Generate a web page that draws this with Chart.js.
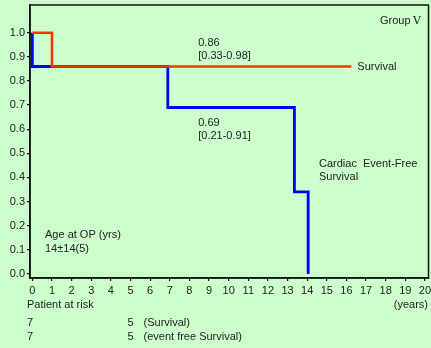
<!DOCTYPE html>
<html>
<head>
<meta charset="utf-8">
<script src="https://cdn.jsdelivr.net/npm/chart.js@4/dist/chart.umd.min.js"></script>
<style>
  html, body { margin: 0; padding: 0; background: #ccffcc; }
  #wrap { width: 431px; height: 348px; position: relative; }
</style>
</head>
<body>
<div id="wrap"><canvas id="km"></canvas></div>
<script>
// Kaplan-Meier steps (years, proportion)
const survivalYears = [0, 1, 16.25];
const survivalValues = [1.0, 0.86, 0.86];
const eventFreeYears = [0, 0, 6.9, 13.35, 14.05];
const eventFreeValues = [1.0, 0.86, 0.69, 0.34, 0.0];

const xTicks = [0,1,2,3,4,5,6,7,8,9,10,11,12,13,14,15,16,17,18,19,20];
const yTicks = [0,0.1,0.2,0.3,0.4,0.5,0.6,0.7,0.8,0.9,1.0];

const survivalCI = '[0.33-0.98]';
const eventFreeCI = '[0.21-0.91]';
const atRiskYears = [0, 5];
const atRiskSurvival = [7, 5];
const atRiskEventFree = [7, 5];

const FONT = '"Liberation Sans", Arial, sans-serif';

const toPoints = (xs, ys) => xs.map((x, i) => ({ x: x, y: ys[i] }));

const overlay = {
  id: 'overlay',
  afterDraw(chart) {
    const { ctx, chartArea: a, scales: { x, y } } = chart;
    ctx.save();
    // frame
    ctx.strokeStyle = '#111';
    ctx.lineWidth = 1.5;
    ctx.strokeRect(a.left, a.top, a.right - a.left, a.bottom - a.top);

    ctx.fillStyle = '#222';
    ctx.font = '11px ' + FONT;
    ctx.textBaseline = 'middle';
    ctx.textAlign = 'left';

    // group label
    ctx.fillText('Group', 380, 21);
    ctx.font = '11px "DejaVu Serif", serif';
    ctx.fillText('\u2164', 413, 21);
    ctx.font = '11px ' + FONT;

    // survival estimate
    const sv = survivalValues[survivalValues.length - 1];
    const xl = x.getPixelForValue(8.45);
    ctx.fillText(sv.toFixed(2), xl, y.getPixelForValue(sv) - 24);
    ctx.fillText(survivalCI, xl, y.getPixelForValue(sv) - 11);
    ctx.fillText('Survival', x.getPixelForValue(survivalYears[survivalYears.length - 1]) + 6, y.getPixelForValue(sv));

    // event-free estimate
    const ev = eventFreeValues[2];
    ctx.fillText(ev.toFixed(2), xl, y.getPixelForValue(ev) + 15);
    ctx.fillText(eventFreeCI, xl, y.getPixelForValue(ev) + 28);
    ctx.fillText('Cardiac  Event-Free', 319, 164);
    ctx.fillText('Survival', 319, 177);

    // age at operation
    ctx.fillText('Age at OP (yrs)', 45, 235);
    ctx.fillText('14\u00b114(5)', 45, 249);

    // patients at risk
    ctx.fillText('Patient at risk', 27, 305);
    ctx.textAlign = 'right';
    ctx.fillText('(years)', 428, 305);
    ctx.textAlign = 'left';
    const rows = [[atRiskSurvival, '(Survival)', 323], [atRiskEventFree, '(event free Survival)', 337]];
    rows.forEach(([vals, label, yy]) => {
      ctx.fillText(String(vals[0]), 27, yy);
      const px = x.getPixelForValue(atRiskYears[1]);
      ctx.fillText(String(vals[1]), px - 3, yy);
      ctx.fillText(label, px + 13, yy);
    });
    ctx.restore();
  }
};

new Chart(document.getElementById('km'), {
  type: 'scatter',
  data: {
    datasets: [
      {
        label: 'Survival',
        data: toPoints(survivalYears, survivalValues),
        showLine: true,
        stepped: 'before',
        borderColor: '#ff3300',
        borderWidth: 2.6,
        pointRadius: 0,
        order: 1
      },
      {
        label: 'Cardiac Event-Free Survival',
        data: toPoints(eventFreeYears, eventFreeValues),
        showLine: true,
        stepped: 'before',
        borderColor: '#0000ff',
        borderWidth: 2.8,
        pointRadius: 0,
        order: 2
      }
    ]
  },
  options: {
    responsive: true,
    maintainAspectRatio: false,
    animation: false,
    devicePixelRatio: 1,
    layout: { padding: { top: 5, right: 2.5, left: 0, bottom: 0 } },
    plugins: { legend: { display: false }, tooltip: { enabled: false } },
    scales: {
      x: {
        type: 'linear',
        min: -0.12,
        max: 20.18,
        afterBuildTicks: s => { s.ticks = xTicks.map(v => ({ value: v })); },
        afterFit: s => { s.height = 70; s.paddingLeft = 0; s.paddingRight = 0; },
        grid: { display: true, drawOnChartArea: false, drawTicks: true, tickLength: 3, color: '#111', lineWidth: 1.2 },
        border: { display: true, color: '#111', width: 1.5 },
        ticks: { color: '#222', font: { family: FONT, size: 11 }, padding: 3, maxRotation: 0, autoSkip: false }
      },
      y: {
        type: 'linear',
        min: -0.017,
        max: 1.115,
        afterBuildTicks: s => { s.ticks = yTicks.map(v => ({ value: v })); },
        afterFit: s => { s.width = 30; s.paddingTop = 0; s.paddingBottom = 0; },
        grid: { display: true, drawOnChartArea: false, drawTicks: true, tickLength: 3, color: '#111', lineWidth: 1.2 },
        border: { display: true, color: '#111', width: 1.5 },
        ticks: { color: '#222', font: { family: FONT, size: 11 }, padding: 2, callback: v => Number(v).toFixed(1) }
      }
    }
  },
  plugins: [overlay]
});
</script>
</body>
</html>
